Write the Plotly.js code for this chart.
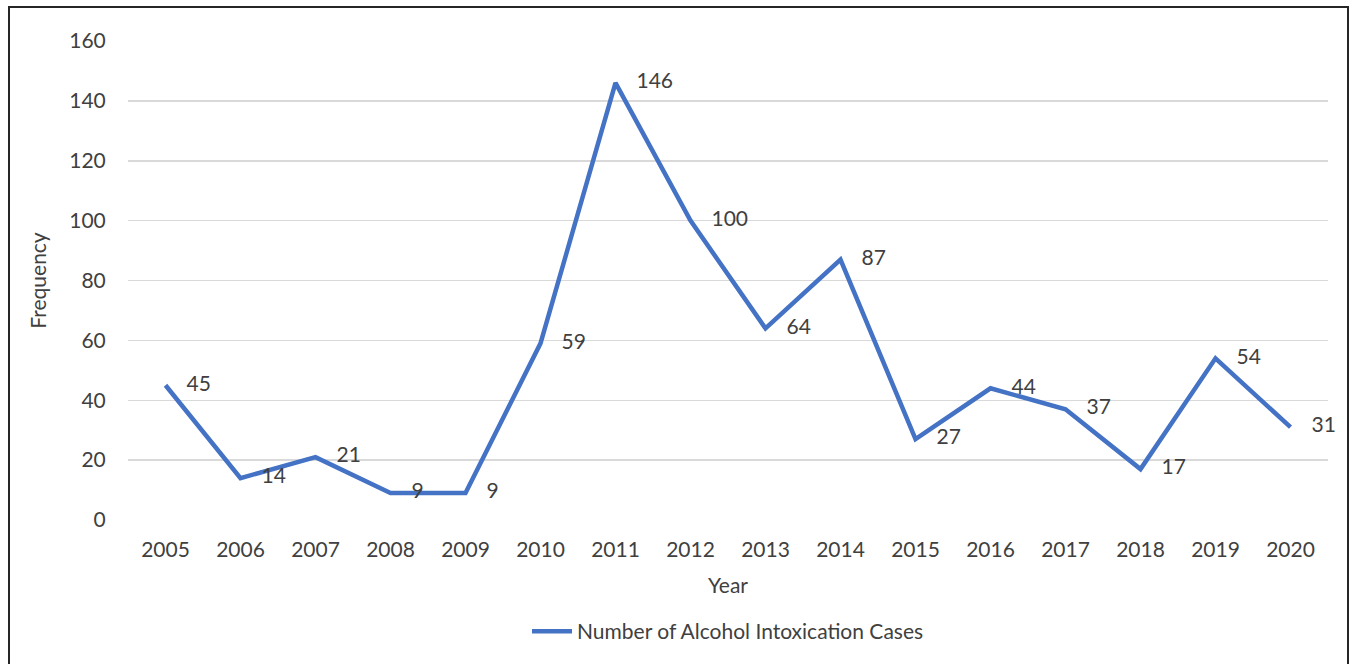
<!DOCTYPE html>
<html>
<head>
<meta charset="utf-8">
<script src="https://cdn.plot.ly/plotly-3.0.1.min.js"></script>
<style>
html,body{margin:0;padding:0;background:#fff;}
#frame{position:absolute;left:8px;top:6px;width:1341px;height:700px;border:2px solid #262626;box-sizing:border-box;pointer-events:none;z-index:10;}
#chart{position:absolute;left:0;top:0;width:1353px;height:664px;}
</style>
</head>
<body>
<div id="chart"></div>
<div id="frame"></div>
<script>
const years = ['2005','2006','2007','2008','2009','2010','2011','2012','2013','2014','2015','2016','2017','2018','2019','2020'];
const cases = [45,14,21,9,9,59,146,100,64,87,27,44,37,17,54,31];
const yTicks = [0,20,40,60,80,100,120,140,160];
const seriesName = 'Number of Alcohol Intoxication Cases';

const font = 'Lato, "Open Sans", sans-serif';
const textColor = '#404040';
const fs = 21;

const trace = {
  x: years,
  y: cases,
  type: 'scatter',
  mode: 'lines+markers+text',
  name: seriesName,
  text: cases.map(String),
  textposition: 'middle right',
  textfont: {family: font, size: fs, color: textColor},
  line: {color: '#4472C4', width: 4.5},
  marker: {size: 32, color: 'rgba(0,0,0,0)'},
  cliponaxis: false,
  hoverinfo: 'x+y'
};

const layout = {
  width: 1353,
  height: 664,
  margin: {l: 128, r: 25, t: 41, b: 142},
  paper_bgcolor: '#fff',
  plot_bgcolor: '#fff',
  font: {family: font, size: fs, color: textColor},
  showlegend: true,
  legend: {
    orientation: 'h',
    x: 0.5, xanchor: 'center',
    y: -0.233, yanchor: 'middle',
    font: {family: font, size: fs, color: textColor},
    itemwidth: 40
  },
  xaxis: {
    type: 'category',
    range: [-0.5, 15.5],
    showgrid: false,
    zeroline: false,
    showline: false,
    ticks: 'outside',
    ticklen: 11,
    tickcolor: 'rgba(0,0,0,0)',
    tickfont: {family: font, size: fs, color: textColor},
    title: {text: 'Year', font: {family: font, size: fs, color: textColor}, standoff: 18}
  },
  yaxis: {
    range: [0, 160],
    tickvals: yTicks,
    ticktext: yTicks.map(String),
    showgrid: true,
    gridcolor: '#d9d9d9',
    gridwidth: 1.5,
    zeroline: false,
    showline: false,
    ticks: 'outside',
    ticklen: 17,
    tickcolor: 'rgba(0,0,0,0)',
    tickfont: {family: font, size: fs, color: textColor},
    title: {text: 'Frequency', font: {family: font, size: fs, color: textColor}, standoff: 16}
  }
};

Plotly.newPlot('chart', [trace], layout, {displayModeBar: false, staticPlot: true});
</script>
</body>
</html>
